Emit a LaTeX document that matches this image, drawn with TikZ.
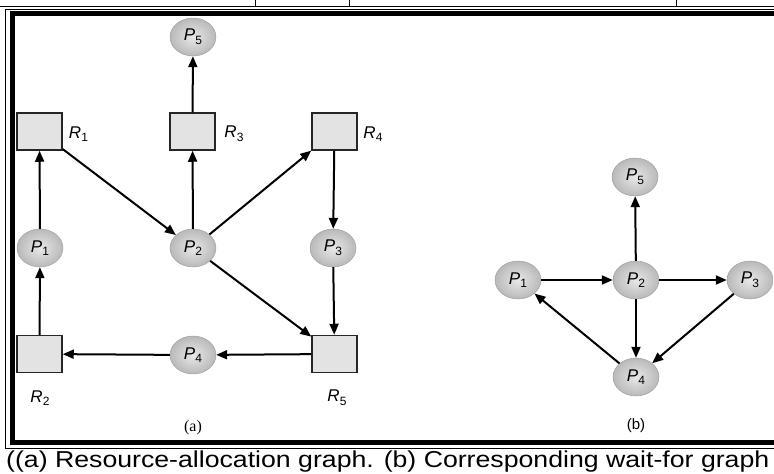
\documentclass[tikz,border=0pt]{standalone}
\usepackage{fontspec}
\setmainfont{Liberation Sans}
\newfontfamily\serifa{Liberation Serif}
\newfontfamily\didascalia[FakeStretch=1.16]{Liberation Sans}
\usetikzlibrary{shapes.geometric, arrows.meta, positioning}
\tikzset{
    processo/.style = {ellipse, draw = gray!80, thin, inner sep = 0pt,
        minimum width = 46pt, minimum height = 38pt,
        inner color = gray!18, outer color = gray!55},
    risorsa/.style = {rectangle, draw = black!85, line width = 1.5pt, fill = gray!22,
        minimum width = 45pt, minimum height = 37pt, inner sep = 0pt},
    freccia/.style = {line width = 2pt, -{Triangle[length = 11pt, width = 9pt]}},
    etichetta/.style = {inner sep = 0pt}
}
\newcommand{\nome}[2]{{\fontsize{17}{17}\selectfont\textit{#1}\kern0.3pt\raisebox{-0.4ex}{\fontsize{12}{12}\selectfont #2}}}

\begin{document}
\begin{tikzpicture}[x = 1pt, y = -1pt]
    % Parametri
    \pgfmathsetmacro{\fine}{800}
    \useasboundingbox (0,0) rectangle (774,474);
    \clip (0,0) rectangle (774,474);
    % Cornice
    \draw[line width = 1pt] (0,6.5) -- (\fine,6.5);
    \foreach \xx in {255,349,676}{
        \draw[line width = 1pt] (\xx,0) -- (\xx,6.5);
    }
    \draw[line width = 1pt] (\fine,9.5) -- (5,9.5) -- (5,448) -- (\fine,448);
    \draw[line width = 5pt] (\fine,13.5) -- (12.5,13.5) -- (12.5,442.5) -- (\fine,442.5);
    % Grafo (a)
    \node[processo] (p5) at (193,37) {\nome{P}{5}};
    \node[risorsa] (r1) at (39.5,131.5) {};
    \node[risorsa] (r3) at (192.5,131.5) {};
    \node[risorsa] (r4) at (334.5,131.5) {};
    \node[processo] (p1) at (40,248) {\nome{P}{1}};
    \node[processo] (p2) at (193,248) {\nome{P}{2}};
    \node[processo] (p3) at (333,248) {\nome{P}{3}};
    \node[risorsa] (r2) at (39.5,354) {};
    \node[processo] (p4) at (193,355) {\nome{P}{4}};
    \node[risorsa] (r5) at (334.5,354) {};
    \node[etichetta] (l1) at (78.5,134) {\nome{R}{1}};
    \node[etichetta] (l3) at (234,134) {\nome{R}{3}};
    \node[etichetta] (l4) at (373,134) {\nome{R}{4}};
    \node[etichetta] (l2) at (40,398) {\nome{R}{2}};
    \node[etichetta] (l5) at (337,398) {\nome{R}{5}};
    \node[etichetta] (ta) at (193,428) {\serifa\fontsize{16}{16}\selectfont (a)};
    \draw[freccia] (r3) -- (p5);
    \draw[freccia] (p1) -- (r1);
    \draw[freccia] (r1) -- (p2);
    \draw[freccia] (p2) -- (r3);
    \draw[freccia] (p2) -- (r4);
    \draw[freccia] (r4) -- (p3);
    \draw[freccia] (p2) -- (r5);
    \draw[freccia] (p3) -- (r5);
    \draw[freccia] (r5) -- (p4);
    \draw[freccia] (p4) -- (r2);
    \draw[freccia] (r2) -- (p1);
    % Grafo (b)
    \node[processo] (q5) at (635,177) {\nome{P}{5}};
    \node[processo] (q1) at (518,280) {\nome{P}{1}};
    \node[processo] (q2) at (636,280) {\nome{P}{2}};
    \node[processo] (q3) at (750,280) {\nome{P}{3}};
    \node[processo] (q4) at (636,377) {\nome{P}{4}};
    \node[etichetta] (tb) at (636,426) {\fontsize{15}{15}\selectfont (b)};
    \draw[freccia] (q2) -- (q5);
    \draw[freccia] (q1) -- (q2);
    \draw[freccia] (q2) -- (q3);
    \draw[freccia] (q2) -- (q4);
    \draw[freccia] (q3) -- (q4);
    \draw[freccia] (q4) -- (q1);
    % Didascalia
    \node[etichetta, anchor = base west] (cap) at (6,467.5)
        {\didascalia\fontsize{23}{23}\selectfont ((a) Resource-allocation graph. (b) Corresponding wait-for graph};
\end{tikzpicture}
\end{document}
